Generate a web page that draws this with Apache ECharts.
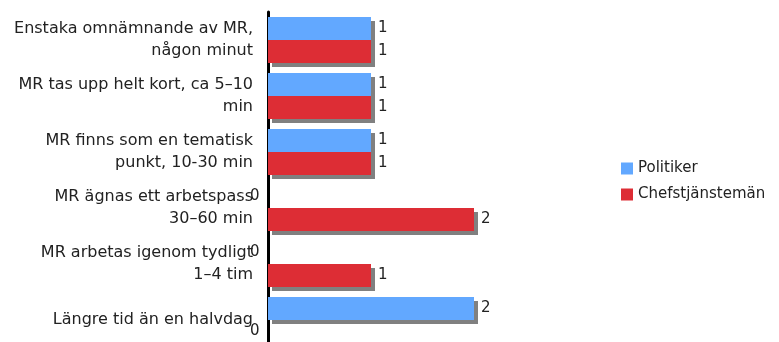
<!DOCTYPE html>
<html>
<head>
<meta charset="utf-8">
<style>
  html, body { margin: 0; padding: 0; background: #fff; }
  #chart { width: 779px; height: 342px; }
</style>
<script src="https://cdn.jsdelivr.net/npm/echarts@6/dist/echarts.min.js"></script>
</head>
<body>
<div id="chart"></div>
<script>
// Time spent on MR at meetings
const categories = [
  'Enstaka omnämnande av MR,\nnågon minut',
  'MR tas upp helt kort, ca 5–10\nmin',
  'MR finns som en tematisk\npunkt, 10-30 min',
  'MR ägnas ett arbetspass\n30–60 min',
  'MR arbetas igenom tydligt\n1–4 tim',
  'Längre tid än en halvdag'
];
const politiker = [1, 1, 1, 0, 0, 2];
const chefstjanstemän = [1, 1, 1, 2, 1, 0];
const seriesNames = ['Politiker', 'Chefstjänstemän'];
const colors = ['#62A8FF', '#DD2D35'];

const FONT = 'DejaVu Sans';

function barData(values) {
  return values.map(v => v === 0
    ? { value: v, label: { offset: [-25, 0] } }
    : { value: v });
}

function makeSeries(name, values, color) {
  return {
    name: name,
    type: 'bar',
    data: barData(values),
    barWidth: 23,
    barGap: '0%',
    itemStyle: {
      color: color,
      shadowColor: '#808080',
      shadowOffsetX: 4,
      shadowOffsetY: 4,
      shadowBlur: 0
    },
    label: {
      show: true,
      position: 'right',
      distance: 7,
      color: '#222',
      fontFamily: FONT,
      fontSize: 15
    },
    emphasis: { disabled: true },
    animation: false
  };
}

const chart = echarts.init(document.getElementById('chart'), null, { renderer: 'canvas' });
chart.setOption({
  backgroundColor: '#fff',
  animation: false,
  grid: {
    left: 268, top: 12, width: 309, height: 336,
    containLabel: false,
    outerBoundsMode: 'none'
  },
  legend: {
    orient: 'vertical',
    left: 621,
    top: 161,
    padding: 0,
    itemWidth: 12,
    itemHeight: 12,
    itemGap: 11,
    icon: 'rect',
    textStyle: { fontFamily: FONT, fontSize: 15, lineHeight: 14, color: '#222' },
    data: seriesNames
  },
  xAxis: {
    type: 'value',
    min: 0,
    max: 3,
    show: false
  },
  yAxis: {
    type: 'category',
    data: categories,
    inverse: true,
    axisLine: { show: true, lineStyle: { color: '#000', width: 3 } },
    axisTick: { show: false },
    splitLine: { show: false },
    axisLabel: {
      margin: 15,
      fontFamily: FONT,
      fontSize: 16,
      lineHeight: 22,
      color: '#222',
      align: 'right'
    }
  },
  series: [
    makeSeries(seriesNames[0], politiker, colors[0]),
    makeSeries(seriesNames[1], chefstjanstemän, colors[1])
  ]
});
</script>
</body>
</html>
